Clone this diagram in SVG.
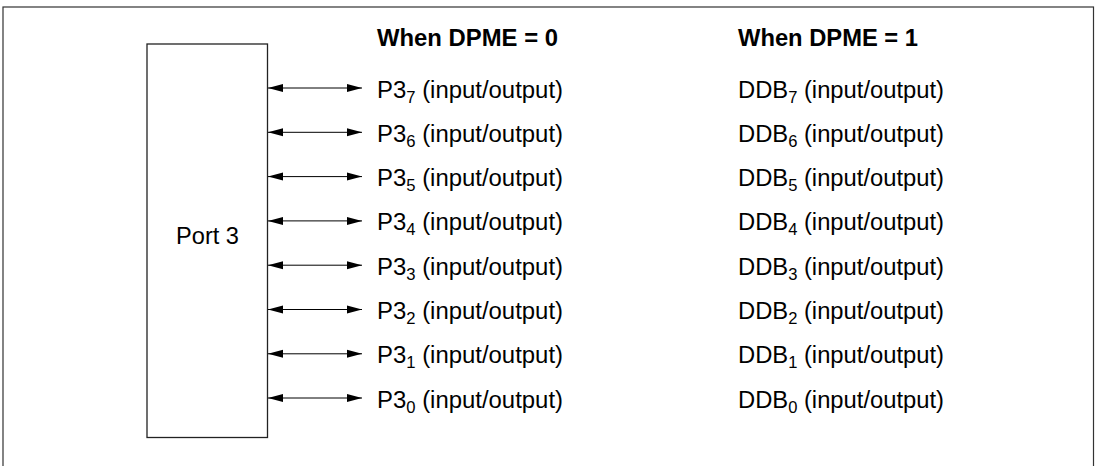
<svg xmlns="http://www.w3.org/2000/svg" width="1098" height="466" viewBox="0 0 1098 466">
<style>
text{font-family:"Liberation Sans",Arial,sans-serif;font-size:23px;fill:#000}
.h{font-weight:bold}
.s{font-size:16px}
.c{stroke:#000;stroke-width:1;fill:none}
</style>
<defs>
<marker id="ah" viewBox="0 0 15 9" refX="15" refY="4.5" markerWidth="15" markerHeight="9" markerUnits="userSpaceOnUse" orient="auto-start-reverse">
<path d="M0,0.5 L15,4.5 L0,8.5 Z" fill="#000"/>
</marker>
</defs>
<rect x="3" y="7" width="1090.5" height="480" fill="#fff" stroke="#333" stroke-width="1.2"/>
<g id="port3">
<rect x="147" y="44" width="120.5" height="393.5" fill="#fff" stroke="#222" stroke-width="1.3"/>
<text x="207.5" y="244" text-anchor="middle" textLength="63" lengthAdjust="spacingAndGlyphs">Port 3</text>
</g>
<g id="headers">
<text class="h" x="377" y="46" textLength="181" lengthAdjust="spacingAndGlyphs">When DPME = 0</text>
<text class="h" x="738" y="46" textLength="180" lengthAdjust="spacingAndGlyphs">When DPME = 1</text>
</g>
<g id="connectors">
<line class="c" x1="268" y1="88" x2="362" y2="88" marker-start="url(#ah)" marker-end="url(#ah)"/>
<line class="c" x1="268" y1="132.3" x2="362" y2="132.3" marker-start="url(#ah)" marker-end="url(#ah)"/>
<line class="c" x1="268" y1="176.6" x2="362" y2="176.6" marker-start="url(#ah)" marker-end="url(#ah)"/>
<line class="c" x1="268" y1="220.9" x2="362" y2="220.9" marker-start="url(#ah)" marker-end="url(#ah)"/>
<line class="c" x1="268" y1="265.2" x2="362" y2="265.2" marker-start="url(#ah)" marker-end="url(#ah)"/>
<line class="c" x1="268" y1="309.5" x2="362" y2="309.5" marker-start="url(#ah)" marker-end="url(#ah)"/>
<line class="c" x1="268" y1="353.8" x2="362" y2="353.8" marker-start="url(#ah)" marker-end="url(#ah)"/>
<line class="c" x1="268" y1="398" x2="362" y2="398" marker-start="url(#ah)" marker-end="url(#ah)"/>
</g>
<g id="p3">
<text x="377" y="97.5" textLength="186" lengthAdjust="spacingAndGlyphs">P3<tspan class="s" dy="5">7</tspan><tspan dy="-5"> (input/output)</tspan></text>
<text x="377" y="141.8" textLength="186" lengthAdjust="spacingAndGlyphs">P3<tspan class="s" dy="5">6</tspan><tspan dy="-5"> (input/output)</tspan></text>
<text x="377" y="186.1" textLength="186" lengthAdjust="spacingAndGlyphs">P3<tspan class="s" dy="5">5</tspan><tspan dy="-5"> (input/output)</tspan></text>
<text x="377" y="230.4" textLength="186" lengthAdjust="spacingAndGlyphs">P3<tspan class="s" dy="5">4</tspan><tspan dy="-5"> (input/output)</tspan></text>
<text x="377" y="274.7" textLength="186" lengthAdjust="spacingAndGlyphs">P3<tspan class="s" dy="5">3</tspan><tspan dy="-5"> (input/output)</tspan></text>
<text x="377" y="319" textLength="186" lengthAdjust="spacingAndGlyphs">P3<tspan class="s" dy="5">2</tspan><tspan dy="-5"> (input/output)</tspan></text>
<text x="377" y="363.3" textLength="186" lengthAdjust="spacingAndGlyphs">P3<tspan class="s" dy="5">1</tspan><tspan dy="-5"> (input/output)</tspan></text>
<text x="377" y="407.5" textLength="186" lengthAdjust="spacingAndGlyphs">P3<tspan class="s" dy="5">0</tspan><tspan dy="-5"> (input/output)</tspan></text>
</g>
<g id="ddb">
<text x="738" y="97.5" textLength="206" lengthAdjust="spacingAndGlyphs">DDB<tspan class="s" dy="5">7</tspan><tspan dy="-5"> (input/output)</tspan></text>
<text x="738" y="141.8" textLength="206" lengthAdjust="spacingAndGlyphs">DDB<tspan class="s" dy="5">6</tspan><tspan dy="-5"> (input/output)</tspan></text>
<text x="738" y="186.1" textLength="206" lengthAdjust="spacingAndGlyphs">DDB<tspan class="s" dy="5">5</tspan><tspan dy="-5"> (input/output)</tspan></text>
<text x="738" y="230.4" textLength="206" lengthAdjust="spacingAndGlyphs">DDB<tspan class="s" dy="5">4</tspan><tspan dy="-5"> (input/output)</tspan></text>
<text x="738" y="274.7" textLength="206" lengthAdjust="spacingAndGlyphs">DDB<tspan class="s" dy="5">3</tspan><tspan dy="-5"> (input/output)</tspan></text>
<text x="738" y="319" textLength="206" lengthAdjust="spacingAndGlyphs">DDB<tspan class="s" dy="5">2</tspan><tspan dy="-5"> (input/output)</tspan></text>
<text x="738" y="363.3" textLength="206" lengthAdjust="spacingAndGlyphs">DDB<tspan class="s" dy="5">1</tspan><tspan dy="-5"> (input/output)</tspan></text>
<text x="738" y="407.5" textLength="206" lengthAdjust="spacingAndGlyphs">DDB<tspan class="s" dy="5">0</tspan><tspan dy="-5"> (input/output)</tspan></text>
</g>
</svg>
